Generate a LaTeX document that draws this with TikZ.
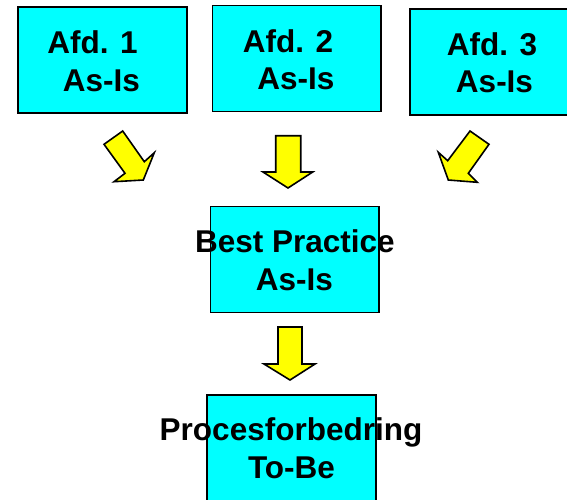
\documentclass[tikz,border=0pt]{standalone}
\usepackage{fontspec}
\setmainfont{Liberation Sans}
\definecolor{boxcyan}{RGB}{0,255,255}
\definecolor{flowyellow}{RGB}{255,255,0}
\begin{document}
\begin{tikzpicture}[x=1pt,y=-1pt,
  box/.style={draw=black,fill=boxcyan,line width=1.6pt},
  flow/.style={draw=black,fill=flowyellow,line width=1.6pt,line join=miter},
  lbl/.style={inner sep=0pt,anchor=base,font=\fontsize{31.5}{37}\selectfont\bfseries}]
\useasboundingbox (0,0) rectangle (567,499);
\clip (0,0) rectangle (567,499);

% process boxes
\path[box] (18,7) rectangle (187,113) coordinate (b1);
\path[box] (212.5,5.5) rectangle (381,111.5) coordinate (b2);
\path[box] (410,9) rectangle (579,115) coordinate (b3);
\path[box] (210.5,206.5) rectangle (379,312.5) coordinate (bp);
\path[box] (207,395) rectangle (376,505) coordinate (pf);

% labels
\node[lbl] (t1a) at (92.5,53) {Afd. 1};
\node[lbl] (t1b) at (101.5,91) {As-Is};
\node[lbl] (t2a) at (288,52) {Afd. 2};
\node[lbl] (t2b) at (296,89) {As-Is};
\node[lbl] (t3a) at (492,55) {Afd. 3};
\node[lbl] (t3b) at (494.5,92) {As-Is};
\node[lbl] (tba) at (295,252.5) {Best Practice};
\node[lbl] (tbb) at (294.5,290) {As-Is};
\node[lbl] (tpa) at (291,440.5) {Procesforbedring};
\node[lbl] (tpb) at (291.5,478) {To-Be};

% block arrows
\draw[flow] (104,144.3) -- (122.7,131) -- (144.3,161.7) -- (154.3,152.7)
  -- (143.3,180) -- (114,181.7) -- (125,173.3) -- cycle;
\draw[flow] (275.7,135.7) -- (300.7,135.7) -- (300.7,172) -- (312.7,172)
  -- (288,188) -- (263,172) -- (275.7,172) -- cycle;
\draw[flow] (489,144.3) -- (470,131) -- (447.7,160.7) -- (438.3,152.3)
  -- (448.3,180) -- (477.3,182.3) -- (468.3,173.3) -- cycle;
\draw[flow] (278,327) -- (302,327) -- (302,364) -- (315,364)
  -- (290,380) -- (264,364) -- (278,364) -- cycle;
\end{tikzpicture}
\end{document}
